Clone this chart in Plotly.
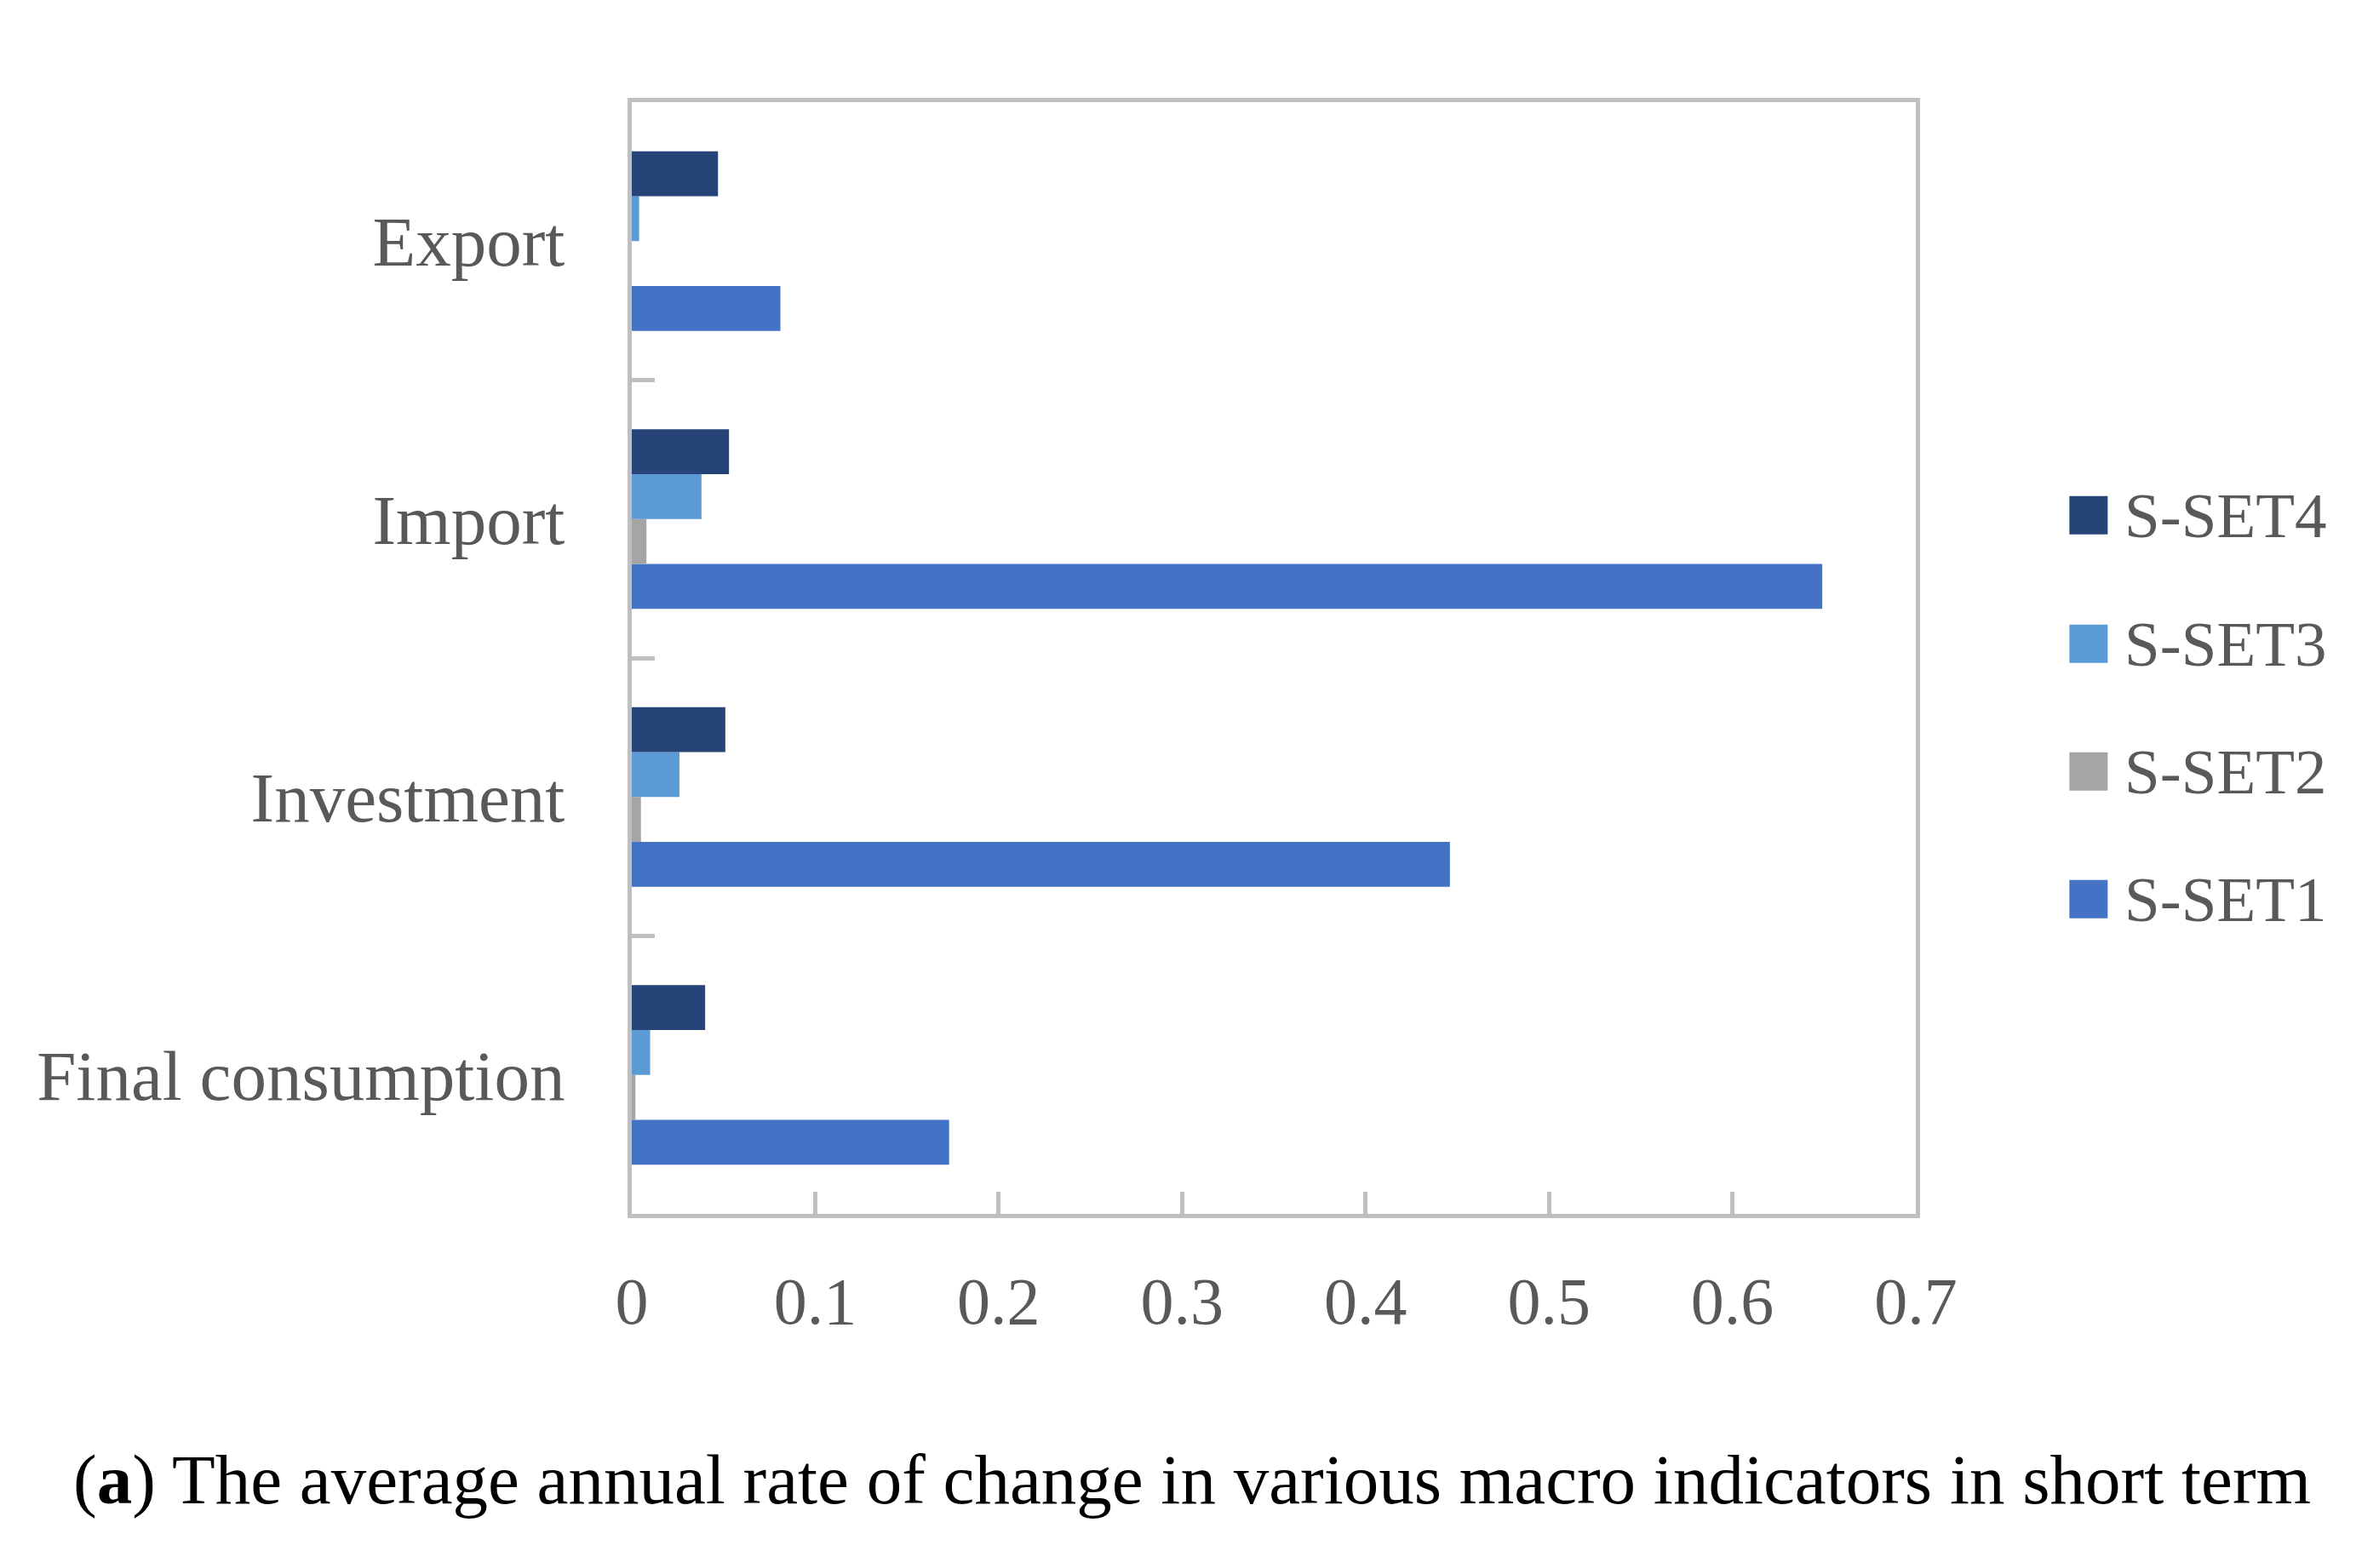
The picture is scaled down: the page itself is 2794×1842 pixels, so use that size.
import plotly.graph_objects as go

categories = ["Final consumption", "Investment", "Import", "Export"]
series_names = ["S-SET1", "S-SET2", "S-SET3", "S-SET4"]
s_set1 = [0.173, 0.446, 0.649, 0.081]
s_set2 = [0.002, 0.005, 0.008, 0.0]
s_set3 = [0.010, 0.026, 0.038, 0.004]
s_set4 = [0.040, 0.051, 0.053, 0.047]
series_values = [s_set1, s_set2, s_set3, s_set4]
colors = ["#4472C4", "#A5A5A5", "#5B9BD5", "#264478"]
x_ticks = [0, 0.1, 0.2, 0.3, 0.4, 0.5, 0.6, 0.7]
x_tick_labels = ["0", "0.1", "0.2", "0.3", "0.4", "0.5", "0.6", "0.7"]
caption = "(<b>a</b>) The average annual rate of change in various macro indicators in short term"

# page has an 8px body margin; figure sized to fit inside the window
OFF = 8
W, H = 2794 - OFF, 1842 - OFF
L, R, T, B = 741.5 - OFF, 2250.5 - OFF, 119.5 - OFF, 1426.0 - OFF
FONT = "Liberation Serif"
GREY_TXT = "#595959"
FRAME = "#BFBFBF"

fig = go.Figure()
for name, vals, col in zip(series_names, series_values, colors):
    fig.add_trace(go.Bar(
        y=categories, x=vals, name=name, orientation="h",
        marker=dict(color=col, line=dict(width=0)),
        showlegend=False,
    ))

def px_x(xp):
    return (xp - OFF - L) / (R - L)

def px_y(yp):
    return (B - (yp - OFF)) / (B - T)

# manual legend (top item = S-SET4)
legend_rows = [605, 756, 906, 1056]
shapes = []
annotations = []
for row_y, name, col in zip(legend_rows, series_names[::-1], colors[::-1]):
    shapes.append(dict(
        type="rect", xref="paper", yref="paper",
        x0=px_x(2431), x1=px_x(2476), y0=px_y(row_y + 22.5), y1=px_y(row_y - 22.5),
        fillcolor=col, line=dict(width=0),
    ))
    annotations.append(dict(
        x=px_x(2494), y=px_y(row_y), xref="paper", yref="paper",
        text=name, showarrow=False, xanchor="left", yanchor="middle",
        font=dict(family=FONT, size=75, color=GREY_TXT),
    ))

annotations.append(dict(
    x=px_x(1400), y=px_y(1738), xref="paper", yref="paper",
    text=caption, showarrow=False, xanchor="center", yanchor="middle",
    font=dict(family=FONT, size=83, color="#000000"),
))

fig.update_layout(
    width=W, height=H,
    margin=dict(l=L, r=W - R, t=T, b=H - B, pad=0),
    paper_bgcolor="white", plot_bgcolor="white",
    barmode="group", bargap=0.353, bargroupgap=0,
    showlegend=False,
    shapes=shapes, annotations=annotations,
    font=dict(family=FONT, color=GREY_TXT),
)
fig.update_xaxes(
    range=[0, 0.7], tickvals=x_ticks, ticktext=x_tick_labels,
    showgrid=False, zeroline=False,
    showline=True, linecolor=FRAME, linewidth=5, mirror=True,
    ticks="inside", ticklen=26, tickwidth=5, tickcolor=FRAME,
    tickfont=dict(family=FONT, size=78, color=GREY_TXT),
    ticklabelstandoff=30,
)
fig.update_yaxes(
    type="category", categoryorder="array", categoryarray=categories,
    showgrid=False, zeroline=False,
    showline=True, linecolor=FRAME, linewidth=5, mirror=True,
    ticks="inside", tickson="boundaries", ticklen=27, tickwidth=5, tickcolor=FRAME,
    tickfont=dict(family=FONT, size=83, color=GREY_TXT),
    ticklabelstandoff=57,
)

fig.write_html("out.html")
